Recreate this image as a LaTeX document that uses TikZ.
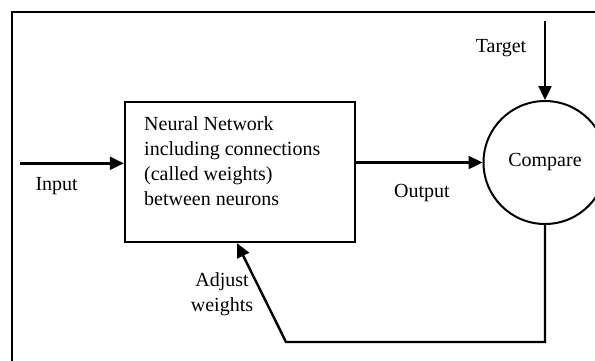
\documentclass[tikz,border=0pt]{standalone}
\usepackage{fontspec}
\setmainfont{Liberation Serif}
\usetikzlibrary{arrows.meta}
\tikzset{
    flow/.style={line width=2.4pt, -{Triangle[length=14pt, width=13pt]}},
    wire/.style={line width=2.4pt},
    nnbox/.style={draw, line width=2.4pt, minimum width=230pt, minimum height=140pt},
    cmpnode/.style={draw, circle, line width=2pt, minimum size=123pt, inner sep=0pt},
}
\begin{document}
\begin{tikzpicture}[x=1pt, y=-1pt, every node/.style={font=\fontsize{20}{25}\selectfont}]
    \useasboundingbox (0,0) rectangle (595,360);
    \clip (0,0) rectangle (595,360);

    % Outer frame
    \draw[wire] (12,380) -- (12,12) -- (620,12);

    % Network block
    \node[nnbox] (nn) at (240,172) {};
    \node[anchor=north west, inner sep=0pt, align=left] (nntext) at (144,116)
        {Neural Network\\including connections\\(called weights)\\between neurons};

    % Compare
    \node[cmpnode] (cmp) at (545,162.5) {Compare};

    % Input
    \coordinate (inp) at (20,163.3);
    \draw[flow] (inp) -- (inp -| nn.west);
    \node[anchor=base west] (inlabel) at (32,190) {Input};

    % Output
    \draw[flow] (nn.east |- cmp.west) -- (cmp.west);
    \node[anchor=base] (outlabel) at (422,197) {Output};

    % Target
    \coordinate (tgt) at (545,20.7);
    \draw[flow] (tgt) -- (cmp.north);
    \node[anchor=base] (tgtlabel) at (501,52) {Target};

    % Feedback
    \coordinate (fbcorner) at (545,342);
    \coordinate (fbturn) at (286,342);
    \draw[flow] (cmp.south) -- (fbcorner) -- (fbturn) -- ([xshift=-3pt]nn.south);
    \node[align=center] (adjlabel) at (222,294.5) {Adjust\\weights};
\end{tikzpicture}
\end{document}
